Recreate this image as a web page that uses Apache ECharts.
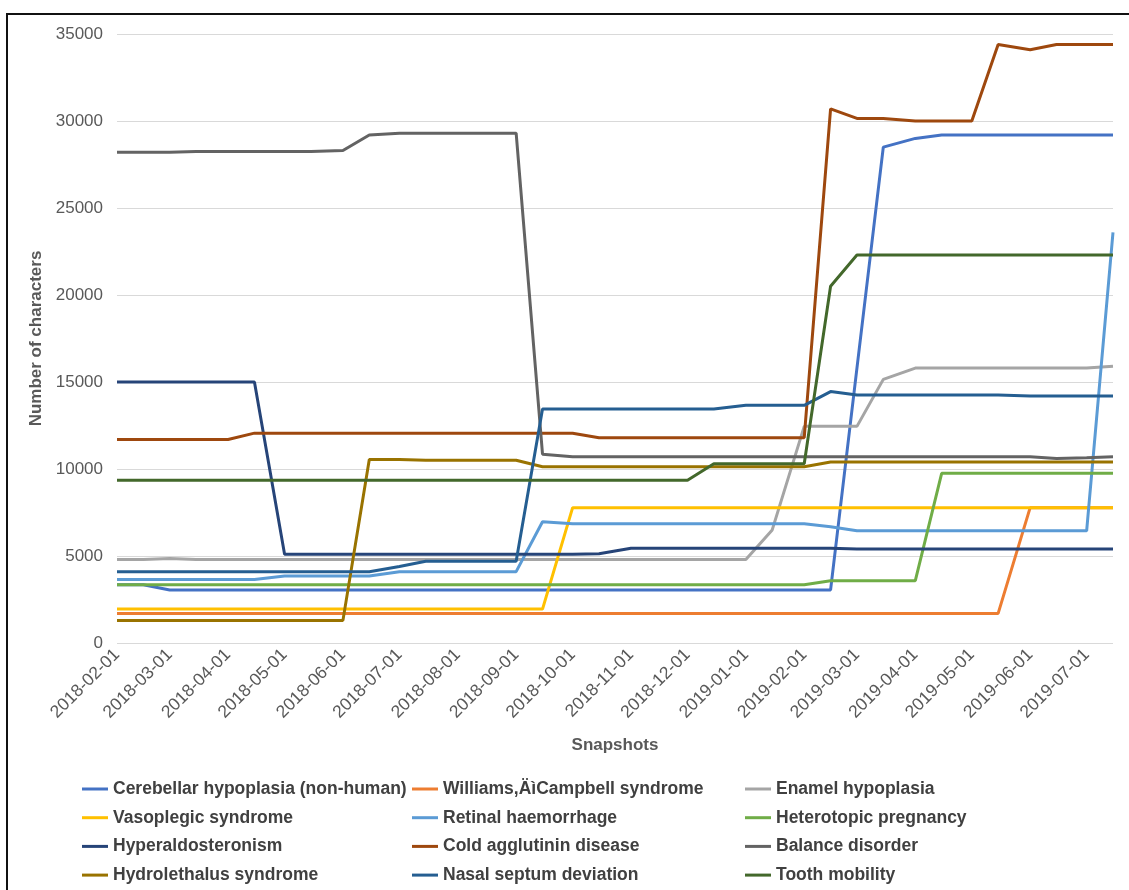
<!DOCTYPE html>
<html>
<head>
<meta charset="utf-8">
<script src="https://cdn.jsdelivr.net/npm/echarts@6/dist/echarts.min.js"></script>
<style>
html,body{margin:0;padding:0;background:#fff;overflow:hidden;}
#chart{width:1129px;height:890px;}
</style>
</head>
<body>
<div id="chart"></div>
<script>
// Snapshot dates (1st and 15th of each month)
const snapshots = ['2018-02-01','2018-02-15','2018-03-01','2018-03-15','2018-04-01','2018-04-15','2018-05-01','2018-05-15','2018-06-01','2018-06-15','2018-07-01','2018-07-15','2018-08-01','2018-08-15','2018-09-01','2018-09-15','2018-10-01','2018-10-15','2018-11-01','2018-11-15','2018-12-01','2018-12-15','2019-01-01','2019-01-15','2019-02-01','2019-02-15','2019-03-01','2019-03-15','2019-04-01','2019-04-15','2019-05-01','2019-05-15','2019-06-01','2019-06-15','2019-07-01','2019-07-15'];

// X tick labels
const monthTicks = ['2018-02-01','2018-03-01','2018-04-01','2018-05-01','2018-06-01','2018-07-01','2018-08-01','2018-09-01','2018-10-01','2018-11-01','2018-12-01','2019-01-01','2019-02-01','2019-03-01','2019-04-01','2019-05-01','2019-06-01','2019-07-01'];

const seriesNames = ['Cerebellar hypoplasia (non-human)','Williams,ÄìCampbell syndrome','Enamel hypoplasia','Vasoplegic syndrome','Retinal haemorrhage','Heterotopic pregnancy','Hyperaldosteronism','Cold agglutinin disease','Balance disorder','Hydrolethalus syndrome','Nasal septum deviation','Tooth mobility'];

const cerebellar = [3350,3350,3050,3050,3050,3050,3050,3050,3050,3050,3050,3050,3050,3050,3050,3050,3050,3050,3050,3050,3050,3050,3050,3050,3050,3050,15800,28500,29000,29200,29200,29200,29200,29200,29200,29200];
const williams = [1700,1700,1700,1700,1700,1700,1700,1700,1700,1700,1700,1700,1700,1700,1700,1700,1700,1700,1700,1700,1700,1700,1700,1700,1700,1700,1700,1700,1700,1700,1700,1700,7780,7780,7780,7780];
const enamel = [4800,4800,4850,4800,4800,4800,4800,4800,4800,4800,4800,4800,4800,4800,4800,4800,4800,4800,4800,4800,4800,4800,4800,6500,12450,12450,12450,15150,15800,15800,15800,15800,15800,15800,15800,15900];
const vasoplegic = [1950,1950,1950,1950,1950,1950,1950,1950,1950,1950,1950,1950,1950,1950,1950,1950,7780,7780,7780,7780,7780,7780,7780,7780,7780,7780,7780,7780,7780,7780,7780,7780,7780,7780,7780,7780];
const retinal = [3650,3650,3650,3650,3650,3650,3850,3850,3850,3850,4100,4100,4100,4100,4100,6970,6850,6850,6850,6850,6850,6850,6850,6850,6850,6680,6450,6450,6450,6450,6450,6450,6450,6450,6450,23600];
const heterotopic = [3350,3350,3350,3350,3350,3350,3350,3350,3350,3350,3350,3350,3350,3350,3350,3350,3350,3350,3350,3350,3350,3350,3350,3350,3350,3580,3580,3580,3580,9750,9750,9750,9750,9750,9750,9750];
const hyperaldo = [15000,15000,15000,15000,15000,15000,5100,5100,5100,5100,5100,5100,5100,5100,5100,5100,5100,5130,5450,5450,5450,5450,5450,5450,5450,5450,5400,5400,5400,5400,5400,5400,5400,5400,5400,5400];
const coldAgg = [11700,11700,11700,11700,11700,12060,12060,12060,12060,12060,12060,12060,12060,12060,12060,12060,12060,11800,11800,11800,11800,11800,11800,11800,11800,30700,30150,30150,30000,30000,30000,34400,34100,34400,34400,34400];
const balance = [28200,28200,28200,28250,28250,28250,28250,28250,28300,29200,29300,29300,29300,29300,29300,10850,10700,10700,10700,10700,10700,10700,10700,10700,10700,10700,10700,10700,10700,10700,10700,10700,10700,10600,10650,10700];
const hydrolethalus = [1300,1300,1300,1300,1300,1300,1300,1300,1300,10550,10550,10500,10500,10500,10500,10130,10130,10130,10130,10130,10130,10130,10130,10130,10130,10400,10400,10400,10400,10400,10400,10400,10400,10400,10400,10400];
const nasal = [4100,4100,4100,4100,4100,4100,4100,4100,4100,4100,4400,4700,4700,4700,4700,13450,13450,13450,13450,13450,13450,13450,13660,13660,13660,14450,14250,14250,14250,14250,14250,14250,14200,14200,14200,14200];
const tooth = [9350,9350,9350,9350,9350,9350,9350,9350,9350,9350,9350,9350,9350,9350,9350,9350,9350,9350,9350,9350,9350,10300,10300,10300,10300,20500,22300,22300,22300,22300,22300,22300,22300,22300,22300,22300];

const seriesValues = [cerebellar, williams, enamel, vasoplegic, retinal, heterotopic, hyperaldo, coldAgg, balance, hydrolethalus, nasal, tooth];
const colors = ['#4472C4','#ED7D31','#A5A5A5','#FFC000','#5B9BD5','#70AD47','#264478','#9E480E','#636363','#997300','#255E91','#43682B'];

const DAY = 86400000;
function toTs(s){ const p = s.split('-'); return Date.UTC(+p[0], +p[1]-1, +p[2]) / DAY; }
function pad(n){ return (n < 10 ? '0' : '') + n; }
function fmt(v){ const d = new Date(Math.round(v) * DAY); return d.getUTCFullYear() + '-' + pad(d.getUTCMonth()+1) + '-' + pad(d.getUTCDate()); }

const FONT = '"Liberation Sans", Arial, Helvetica, sans-serif';
const chart = echarts.init(document.getElementById('chart'), null, {renderer: 'canvas'});

const legendLefts = [82, 412, 745];
const legends = [0,1,2].map(c => ({
  orient: 'vertical',
  left: legendLefts[c],
  top: 780,
  padding: 0,
  height: 110,
  icon: 'rect',
  itemWidth: 26,
  itemHeight: 3,
  itemGap: 10.7,
  data: seriesNames.filter((_, i) => i % 3 === c),
  textStyle: {fontFamily: FONT, fontWeight: 'bold', fontSize: 17.5, color: '#404040', lineHeight: 18}
}));

chart.setOption({
  animation: false,
  backgroundColor: '#fff',
  color: colors,
  grid: {left: 117, right: 16, top: 34, bottom: 247, containLabel: false},
  legend: legends,
  graphic: [{
    type: 'polyline',
    silent: true,
    shape: {points: [[7, 900], [7, 14], [1135, 14]]},
    style: {stroke: '#111', lineWidth: 2, fill: null}
  }],
  xAxis: {
    type: 'value',
    min: toTs(snapshots[0]),
    max: toTs(snapshots[snapshots.length - 1]),
    name: 'Snapshots',
    nameLocation: 'middle',
    nameGap: 94,
    nameTextStyle: {fontFamily: FONT, fontWeight: 'bold', fontSize: 17, color: '#595959'},
    axisLine: {show: false},
    axisTick: {show: false},
    splitLine: {show: false},
    axisLabel: {
      customValues: monthTicks.map(toTs),
      formatter: function (v) { return fmt(v); },
      rotate: 45,
      fontFamily: FONT,
      fontSize: 17.5,
      color: '#595959',
      margin: 9,
      hideOverlap: false
    }
  },
  yAxis: {
    type: 'value',
    min: 0,
    max: 35000,
    interval: 5000,
    name: 'Number of characters',
    nameLocation: 'middle',
    nameGap: 64,
    nameTextStyle: {fontFamily: FONT, fontWeight: 'bold', fontSize: 17, color: '#595959'},
    axisLine: {show: false},
    axisTick: {show: false},
    axisLabel: {fontFamily: FONT, fontSize: 17, color: '#595959', margin: 14, formatter: function (v) { return String(v); }},
    splitLine: {lineStyle: {color: '#D9D9D9', width: 1}}
  },
  series: seriesNames.map((name, k) => ({
    name: name,
    type: 'line',
    symbol: 'none',
    lineStyle: {width: 3, color: colors[k]},
    itemStyle: {color: colors[k]},
    data: snapshots.map((d, i) => [toTs(d), seriesValues[k][i]])
  }))
});
</script>
</body>
</html>
